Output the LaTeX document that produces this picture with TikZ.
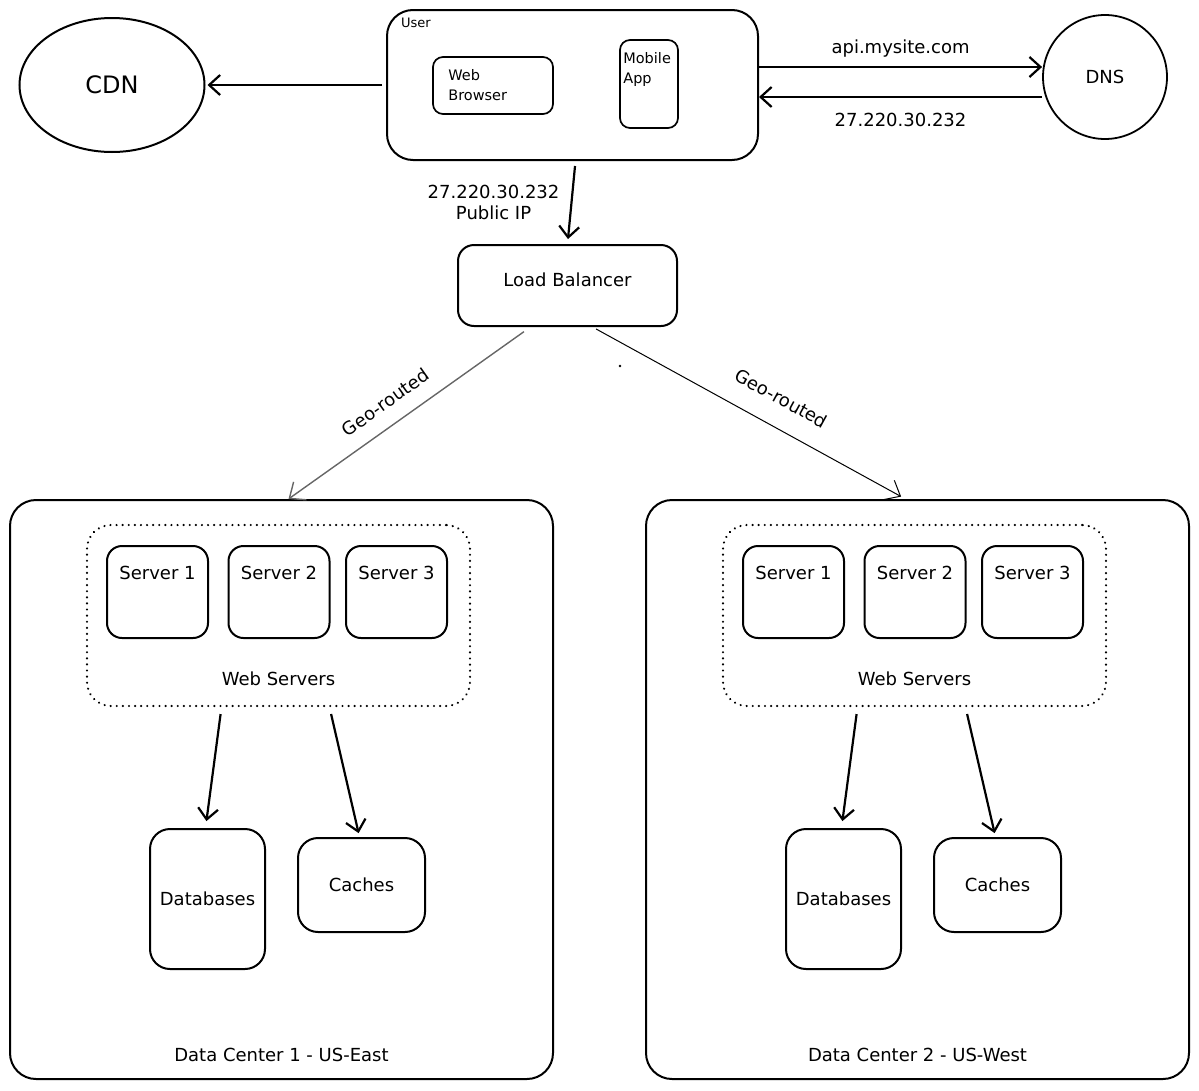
\documentclass[tikz,border=0pt]{standalone}
\usepackage{fontspec}
\setmainfont{DejaVu Sans}
\usetikzlibrary{arrows.meta}
\usetikzlibrary{positioning}
\usetikzlibrary{shapes.geometric}

\begin{document}
\begin{tikzpicture}
        [ x=1pt, y=-1pt
        , box/.style={draw, line width=2pt, rounded corners=20pt, inner sep=0pt}
        , smallbox/.style={draw, line width=1.7pt, rounded corners=10pt, inner sep=0pt}
        , group/.style={draw, line width=2.3pt, rounded corners=24pt, dash pattern=on 0.1pt off 6pt, line cap=round, inner sep=0pt}
        , txt/.style={font=\fontsize{18}{21}\selectfont, inner sep=1pt}
        , tiny/.style={font=\fontsize{14.5}{20}\selectfont, inner sep=0pt, align=left}
        , arr/.style={line width=2.2pt, -{Straight Barb[length=11pt, width=20pt]}}
        , geo/.style={line width=1pt, -{Straight Barb[length=13pt, width=22pt]}}
        ]
        \useasboundingbox (0,0) rectangle (1199,1090);

        % client side
        \node[draw, ellipse, line width=2pt, minimum width=185pt, minimum height=134pt,
              font=\fontsize{24}{28}\selectfont] (cdn) at (112,85) {CDN};
        \node[box, rounded corners=26pt, minimum width=371pt, minimum height=150pt] (user) at (572.5,85) {};
        \node[tiny, font=\fontsize{13}{14}\selectfont, anchor=north west] (usertxt)
              at ([xshift=15pt, yshift=-9pt]user.north west) {User};
        \node[smallbox, minimum width=120pt, minimum height=57pt] (browser) at (493,85.5) {};
        \node[tiny, anchor=west] (browsertxt) at ([xshift=16pt]browser.west) {Web\\Browser};
        \node[smallbox, minimum width=58pt, minimum height=88pt] (mobile) at (649,84) {};
        \node[tiny, anchor=north west] (mobiletxt) at ([xshift=4pt, yshift=-13pt]mobile.north west) {Mobile\\App};
        \node[draw, circle, line width=1.8pt, minimum size=124pt, txt] (dns) at (1105,77) {DNS};
        \node[box, rounded corners=16pt, minimum width=219pt, minimum height=81pt, txt, text depth=12pt] (lb) at (567.5,285.5) {Load Balancer};

        \draw[arr, shorten <=4pt, shorten >=2pt] (user.west) -- (cdn.east);
        \draw[arr] ([yshift=18pt]user.east) -- ([yshift=10pt]dns.west)
              node[midway, above=8pt, txt] (dnsq) {api.mysite.com};
        \draw[arr] ([yshift=-20pt]dns.west) -- ([yshift=-12pt]user.east)
              node[midway, below=14pt, txt] (dnsa) {27.220.30.232};
        \draw[arr, shorten <=5pt, shorten >=5pt] ([xshift=3pt]user.south) -- (lb.north)
              node[pos=0.5, left=10pt, txt, align=center] (pubip) {27.220.30.232\\Public IP};

        % data centers
        \foreach \i/\dx/\region in {1/0/East, 2/636/West} {
            \begin{scope}[xshift=\dx pt]
                \node[box, rounded corners=26pt, minimum width=543pt, minimum height=579pt] (dc\i) at (281.5,789.5) {};
                \node[txt, above=17pt of dc\i.south] (dctxt\i) {Data Center \i\ - US-\region};
                \node[group, minimum width=383pt, minimum height=181pt] (ws\i) at (278.5,615.5) {};
                \node[txt, above=20pt of ws\i.south] (wstxt\i) {Web Servers};
                \foreach \j/\sx in {1/157.5, 2/279, 3/396.5} {
                    \node[box, rounded corners=15pt, minimum width=101pt, minimum height=92pt] (srv\i\j) at (\sx,592) {};
                    \node[txt, below=20pt of srv\i\j.north] (srvtxt\i\j) {Server \j};
                }
                \node[box, minimum width=115pt, minimum height=140pt, txt] (db\i) at (207.5,899) {Databases};
                \node[box, minimum width=127pt, minimum height=94pt, txt] (cache\i) at (361.5,885) {Caches};
                \draw[arr, shorten <=7pt, shorten >=7pt] ([xshift=-57pt]ws\i.south) -- ([xshift=-2pt]db\i.north);
                \draw[arr, shorten <=7pt, shorten >=4pt] ([xshift=51pt]ws\i.south) -- ([xshift=-2pt]cache\i.north);
            \end{scope}
        }

        % routing
        \draw[geo, draw=black!60, line width=1.4pt, shorten <=8pt] ([xshift=-37pt]lb.south) -- ([xshift=7pt]dc1.north)
              node[pos=0.545, sloped, above=14pt, txt] (geoeast) {Geo-routed};
        \draw[geo, shorten <=4pt, shorten >=5pt] ([xshift=25pt]lb.south) -- ([xshift=-12pt]dc2.north)
              node[pos=0.56, sloped, above=20pt, txt] (geowest) {Geo-routed};
        \fill (620,366) circle (1.3pt);
\end{tikzpicture}
\end{document}
